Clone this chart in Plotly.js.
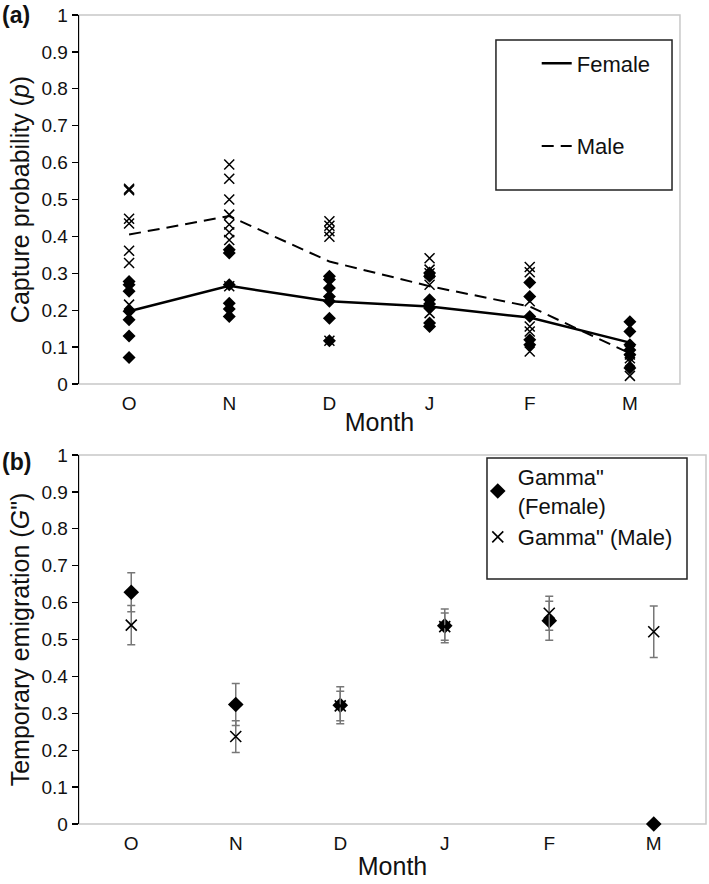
<!DOCTYPE html>
<html>
<head>
<meta charset="utf-8">
<script src="https://cdn.plot.ly/plotly-3.0.1.min.js"></script>
<style>
  body { margin: 0; background: #fff; }
  #graph { width: 709px; height: 884px; }
</style>
</head>
<body>
<div id="graph"></div>
<script>
var months = ['O', 'N', 'D', 'J', 'F', 'M'];

// (a) individual capture probability estimates, one list per month
var femaleP = [
  [0.278, 0.269, 0.251, 0.197, 0.174, 0.130, 0.072],
  [0.364, 0.355, 0.269, 0.219, 0.203, 0.183],
  [0.292, 0.283, 0.260, 0.237, 0.224, 0.178, 0.117],
  [0.301, 0.292, 0.228, 0.217, 0.206, 0.165, 0.156],
  [0.275, 0.237, 0.183, 0.120, 0.106],
  [0.169, 0.142, 0.106, 0.092, 0.079, 0.043]
];
var maleP = [
  [0.529, 0.525, 0.448, 0.435, 0.361, 0.328, 0.215],
  [0.595, 0.556, 0.500, 0.459, 0.432, 0.411, 0.390, 0.265],
  [0.441, 0.429, 0.414, 0.399, 0.117],
  [0.341, 0.310, 0.300, 0.269, 0.192],
  [0.317, 0.303, 0.224, 0.156, 0.142, 0.088],
  [0.090, 0.080, 0.070, 0.060, 0.022]
];
var femaleMean = [0.197, 0.266, 0.224, 0.210, 0.180, 0.112];
var maleMean = [0.405, 0.455, 0.332, 0.265, 0.210, 0.083];

// (b) temporary emigration
var gammaFemale = [0.628, 0.324, 0.322, 0.537, 0.551, 0];
var gammaFemaleErr = [0.053, 0.057, 0.050, 0.046, 0.053, 0];
var gammaMale = [0.539, 0.237, 0.320, 0.535, 0.571, 0.521];
var gammaMaleErr = [0.053, 0.043, 0.040, 0.037, 0.046, 0.070];

var yTicks = [0, 0.1, 0.2, 0.3, 0.4, 0.5, 0.6, 0.7, 0.8, 0.9, 1];
var yTickText = ['0', '0.1', '0.2', '0.3', '0.4', '0.5', '0.6', '0.7', '0.8', '0.9', '1'];

var fontFam = 'Liberation Sans, Arial, sans-serif';

function flatten(lists){
    var xs = [];
    var ys = [];
    for (var i = 0; i < lists.length; i++){
        for (var j = 0; j < lists[i].length; j++){
            xs.push(months[i]);
            ys.push(lists[i][j]);
        }
    }
    return {x: xs, y: ys};
}

function plotgraph(){

    var f = flatten(femaleP);
    var m = flatten(maleP);

    var charts = [];

    charts.push({
        type: 'scatter', mode: 'markers', x: f.x, y: f.y,
        xaxis: 'x', yaxis: 'y', showlegend: false,
        marker: {symbol: 'diamond', size: 10, color: '#000'}
    });
    charts.push({
        type: 'scatter', mode: 'markers', x: m.x, y: m.y,
        xaxis: 'x', yaxis: 'y', showlegend: false,
        marker: {symbol: 'x-thin-open', size: 10, color: '#000', line: {width: 1.5, color: '#000'}}
    });
    charts.push({
        type: 'scatter', mode: 'lines', x: months, y: femaleMean,
        xaxis: 'x', yaxis: 'y', name: 'Female', legend: 'legend', legendgroup: 'f',
        line: {color: '#000', width: 2.5}
    });
    charts.push({
        type: 'scatter', mode: 'lines', x: months, y: maleMean,
        xaxis: 'x', yaxis: 'y', name: 'Male', legend: 'legend', legendgroup: 'm',
        line: {color: '#000', width: 2, dash: '12px,7px'}
    });

    charts.push({
        type: 'scatter', mode: 'markers', x: months, y: gammaFemale,
        xaxis: 'x2', yaxis: 'y2', name: 'Gamma"<br>(Female)', legend: 'legend2',
        cliponaxis: false,
        marker: {symbol: 'diamond', size: 12, color: '#000'},
        error_y: {type: 'data', array: gammaFemaleErr, color: '#777', thickness: 1.5, width: 4}
    });
    charts.push({
        type: 'scatter', mode: 'markers', x: months, y: gammaMale,
        xaxis: 'x2', yaxis: 'y2', name: 'Gamma" (Male)', legend: 'legend2',
        cliponaxis: false,
        marker: {symbol: 'x-thin-open', size: 11, color: '#000', line: {width: 1.6, color: '#000'}},
        error_y: {type: 'data', array: gammaMaleErr, color: '#777', thickness: 1.5, width: 4}
    });

    var yBase = {
      range: [0, 1], tickvals: yTicks, ticktext: yTickText,
      showline: true, linecolor: '#000', linewidth: 1.3,
      ticks: 'outside', ticklen: 6, tickcolor: '#000', tickwidth: 1.3,
      showgrid: false, zeroline: false,
      tickfont: {family: fontFam, size: 19, color: '#111'}
    };
    var xBase = {
      type: 'category', range: [-0.5, 5.5],
      showline: false, showgrid: false, zeroline: false,
      ticks: 'outside', ticklen: 2, tickcolor: 'rgba(0,0,0,0)',
      tickfont: {family: fontFam, size: 19, color: '#111'}
    };
    var titleFont = {family: fontFam, size: 25, color: '#111'};

    var layout = {
      width: 709,
      height: 884,
      margin: {l: 79, r: 3, t: 15, b: 60},
      paper_bgcolor: '#fff',
      plot_bgcolor: '#fff',
      font: {family: fontFam, color: '#111'},
      xaxis: Object.assign({}, xBase, {domain: [0, 0.9585], anchor: 'y',
        title: {text: 'Month', font: titleFont, standoff: 0}}),
      yaxis: Object.assign({}, yBase, {domain: [0.5439, 1], anchor: 'x',
        title: {text: 'Capture probability (<i>p</i>)', font: titleFont, standoff: 4}}),
      xaxis2: Object.assign({}, xBase, {domain: [0, 1], anchor: 'y2',
        title: {text: 'Month', font: titleFont, standoff: 4}}),
      yaxis2: Object.assign({}, yBase, {domain: [0, 0.4561], anchor: 'x2',
        title: {text: 'Temporary emigration (<i>G</i>")', font: titleFont, standoff: 4}}),
      legend: {
        x: 0.73, y: 0.966, xanchor: 'left', yanchor: 'top',
        bgcolor: 'rgba(0,0,0,0)', borderwidth: 0,
        tracegroupgap: 51, traceorder: 'grouped',
        font: {family: fontFam, size: 22, color: '#111'}
      },
      legend2: {
        x: 0.636, y: 0.455, xanchor: 'left', yanchor: 'top',
        bgcolor: 'rgba(0,0,0,0)', borderwidth: 0,
        font: {family: fontFam, size: 22, color: '#111'}
      },
      shapes: [
        // plot area borders
        {type: 'rect', xref: 'x domain', yref: 'y domain', x0: 0, x1: 1, y0: 0, y1: 1,
         line: {color: '#c8c8c8', width: 1.5}, layer: 'below'},
        {type: 'rect', xref: 'x2 domain', yref: 'y2 domain', x0: 0, x1: 1, y0: 0, y1: 1,
         line: {color: '#c8c8c8', width: 1.5}, layer: 'below'},
        // legend boxes
        {type: 'rect', xref: 'paper', yref: 'paper', x0: 0.665, x1: 0.9458, y0: 0.7837, y1: 0.9691,
         line: {color: '#222', width: 1.5}},
        {type: 'rect', xref: 'paper', yref: 'paper', x0: 0.6507, x1: 0.9697, y0: 0.3028, y1: 0.4524,
         line: {color: '#222', width: 1.5}}
      ],
      annotations: [
        {text: '<b>(a)</b>', xref: 'paper', yref: 'paper', x: -0.126, y: 1.0, xanchor: 'left', yanchor: 'middle',
         showarrow: false, font: {family: fontFam, size: 23, color: '#111'}},
        {text: '<b>(b)</b>', xref: 'paper', yref: 'paper', x: -0.126, y: 0.4475, xanchor: 'left', yanchor: 'middle',
         showarrow: false, font: {family: fontFam, size: 23, color: '#111'}}
      ]
    };

    Plotly.newPlot('graph', charts, layout, {staticPlot: true});
}

plotgraph();
</script>
</body>
</html>
